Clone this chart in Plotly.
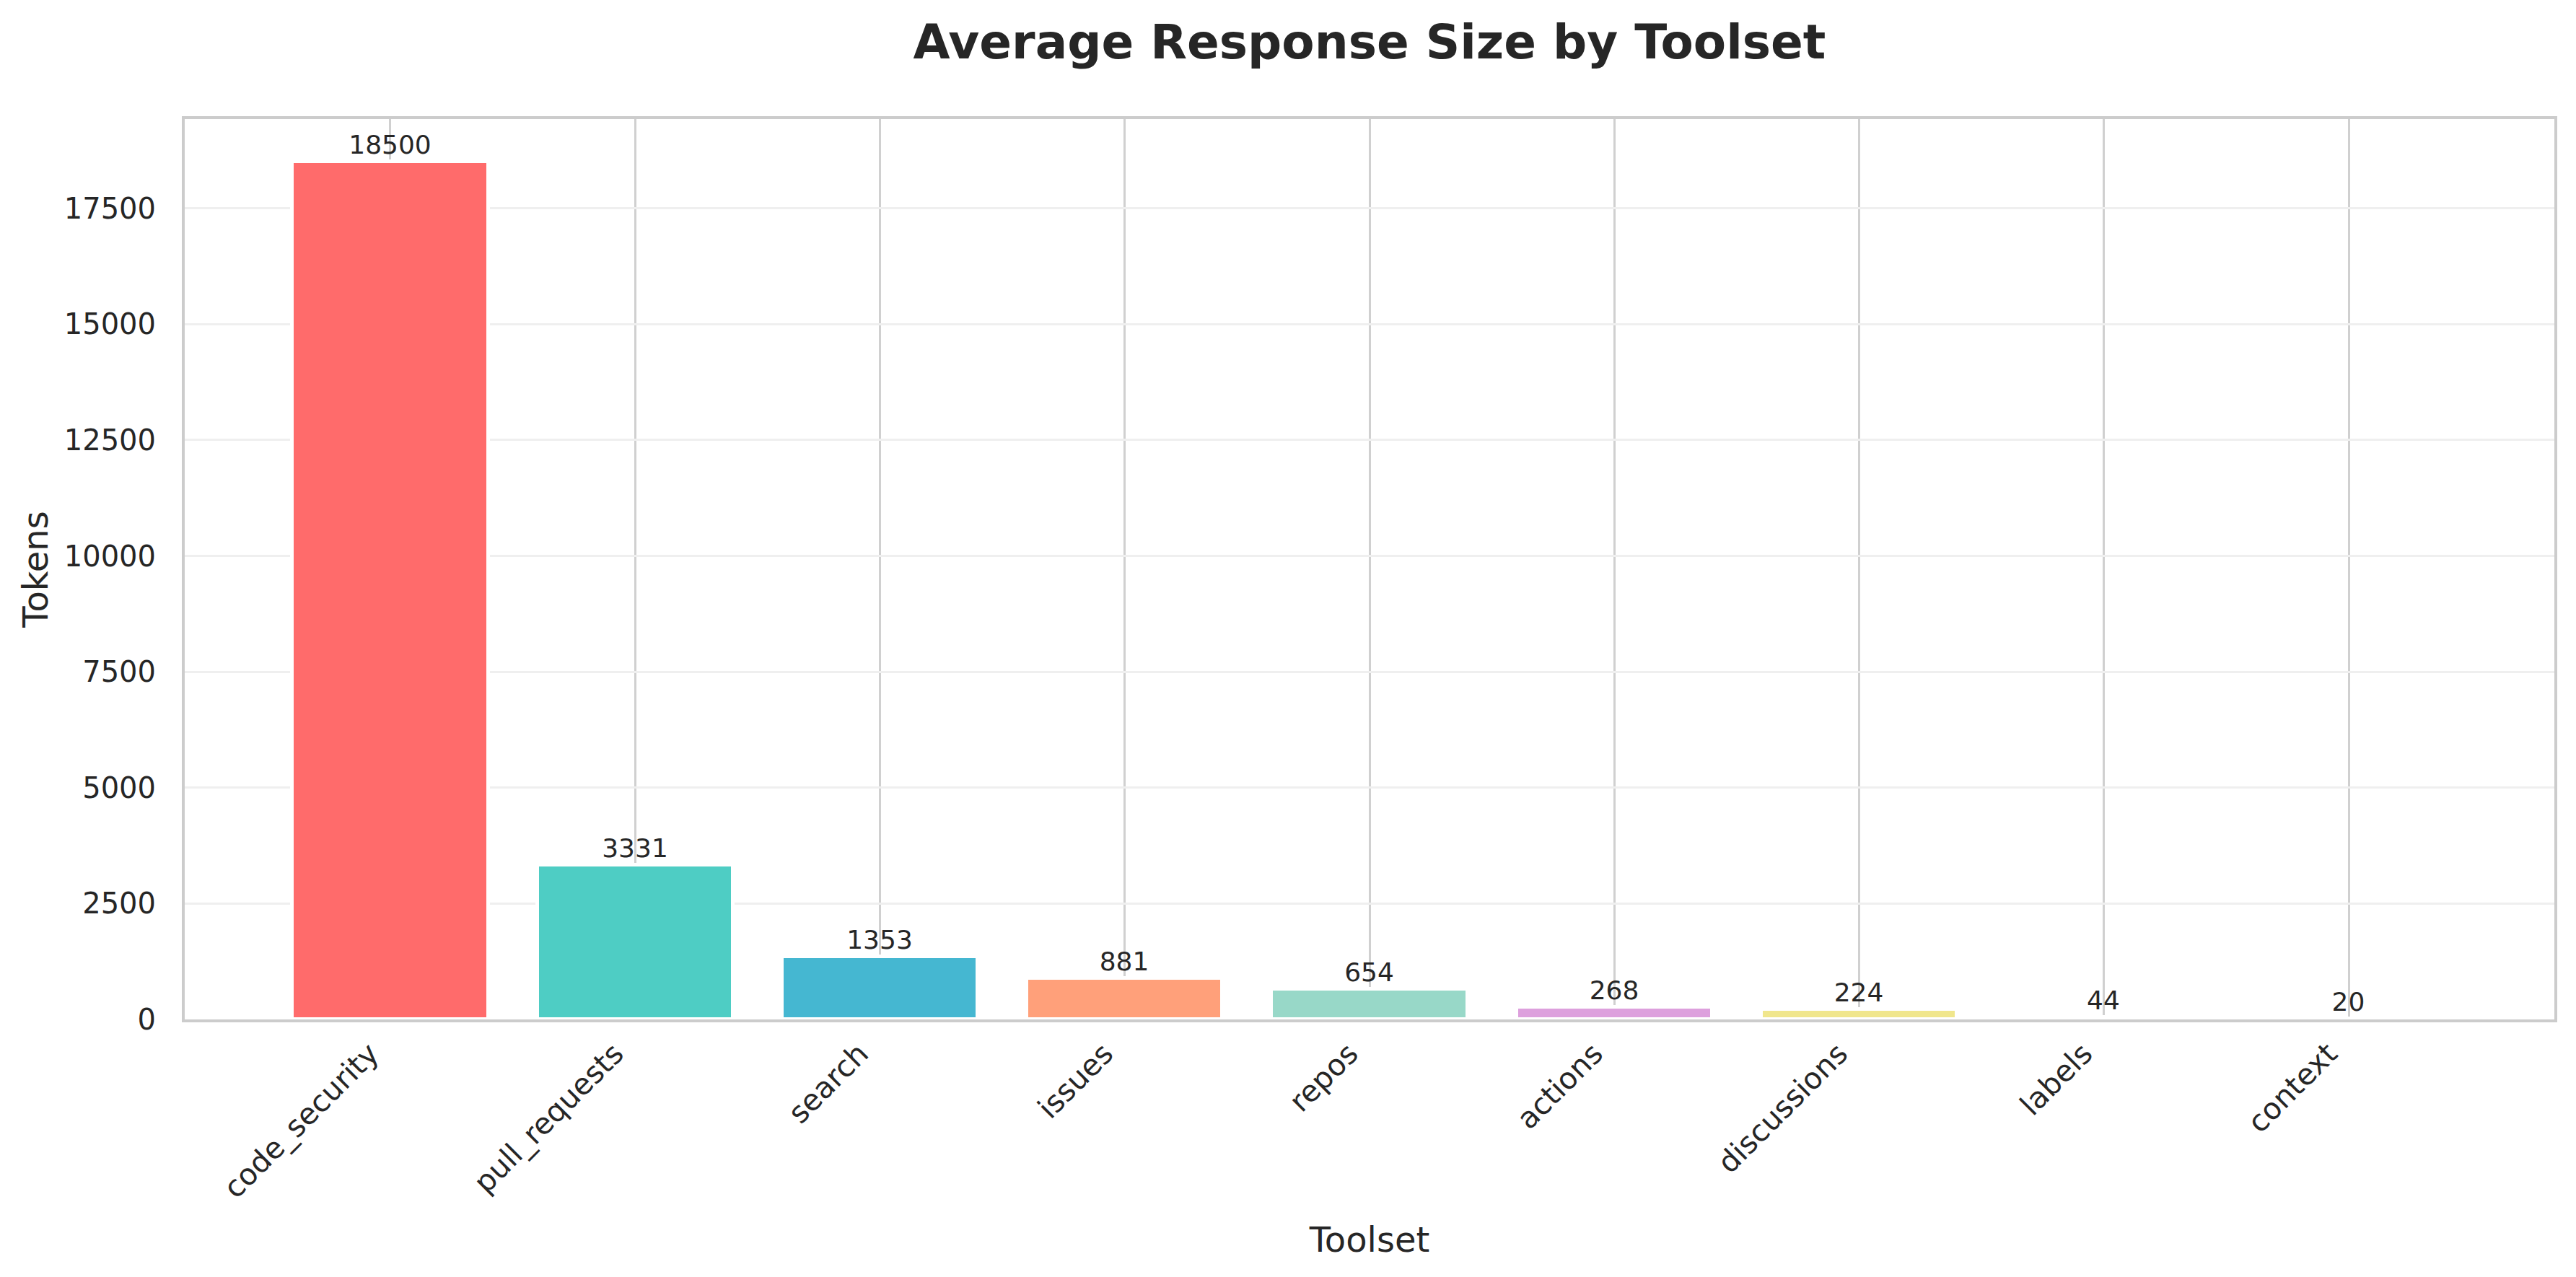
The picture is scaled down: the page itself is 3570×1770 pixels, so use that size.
import plotly.graph_objects as go

toolsets = ["code_security", "pull_requests", "search", "issues", "repos",
            "actions", "discussions", "labels", "context"]
avg_tokens = [18500, 3331, 1353, 881, 654, 268, 224, 44, 20]
bar_colors = ["#FF6B6B", "#4ECDC4", "#45B7D1", "#FFA07A", "#98D8C8",
              "#DDA0DD", "#F0E68C", "#87CEEB", "#F7B7A3"]
y_ticks = [0, 2500, 5000, 7500, 10000, 12500, 15000, 17500]

FONT = "DejaVu Sans"
TXT = "#262626"

# page body has an 8px margin, so the figure is sized to fit inside it
W, H = 3554, 1754

fig = go.Figure(go.Bar(
    x=toolsets,
    y=avg_tokens,
    width=0.8,
    marker=dict(color=bar_colors, line=dict(color="white", width=5)),
    text=[str(v) for v in avg_tokens],
    textposition="outside",
    textfont=dict(family=FONT, size=36, color=TXT),
    cliponaxis=False,
))

fig.update_layout(
    width=W, height=H,
    margin=dict(l=248, r=22, t=157, b=349),
    paper_bgcolor="white", plot_bgcolor="white",
    font=dict(family=FONT, color=TXT),
    showlegend=False,
    title=dict(text="<b>Average Response Size by Toolset</b>",
               font=dict(family=FONT, size=66, color=TXT),
               x=0.5, xanchor="center", xref="paper",
               y=1 - 50 / H, yanchor="middle", yref="container"),
    bargap=0,
)

fig.update_xaxes(
    type="category",
    range=[-0.84, 8.84],
    tickangle=-45,
    tickfont=dict(family=FONT, size=41, color=TXT),
    showgrid=True, gridcolor="#d0d0d0", gridwidth=3,
    showline=True, mirror=True, linecolor="#cccccc", linewidth=4,
    ticks="", ticklabelstandoff=3, ticklabelshift=-28,
    title=dict(text="Toolset", font=dict(family=FONT, size=48, color=TXT), standoff=33),
)

fig.update_yaxes(
    range=[0, 19425],
    tickvals=y_ticks,
    ticktext=[str(v) for v in y_ticks],
    tickfont=dict(family=FONT, size=40, color=TXT),
    showgrid=True, gridcolor="#efefef", gridwidth=3,
    zeroline=False,
    showline=True, mirror=True, linecolor="#cccccc", linewidth=4,
    ticks="", ticklabelstandoff=28,
    title=dict(text="Tokens", font=dict(family=FONT, size=48, color=TXT), standoff=8),
)

fig.write_html("out.html")
